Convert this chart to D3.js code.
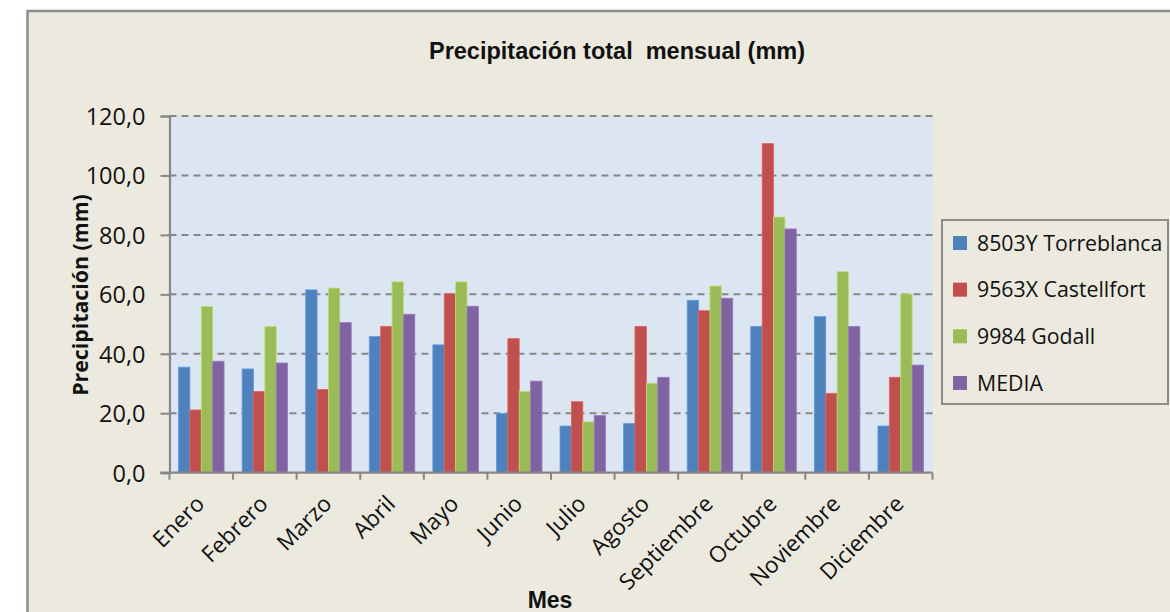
<!DOCTYPE html>
<html>
<head>
<meta charset="utf-8">
<script src="https://cdn.jsdelivr.net/npm/d3@7"></script>
<style>
  html, body { margin: 0; padding: 0; background: #ffffff; }
  svg { display: block; }
</style>
</head>
<body>
<svg id="chart" width="1170" height="612"></svg>
<script>
// Monthly precipitation (mm) by station
const months = ["Enero", "Febrero", "Marzo", "Abril", "Mayo", "Junio", "Julio", "Agosto", "Septiembre", "Octubre", "Noviembre", "Diciembre"];
const seriesNames = ["8503Y Torreblanca", "9563X Castellfort", "9984 Godall", "MEDIA"];
const torreblanca = [35.5, 34.9, 61.5, 45.8, 43.0, 19.9, 15.7, 16.5, 58.0, 49.2, 52.5, 15.7];
const castellfort = [21.1, 27.3, 28.0, 49.2, 60.2, 45.1, 23.9, 49.2, 54.5, 110.7, 26.7, 32.1];
const godall = [55.9, 49.2, 62.1, 64.2, 64.2, 27.3, 17.1, 30.1, 62.8, 86.0, 67.6, 60.1];
const media = [37.5, 36.9, 50.5, 53.3, 56.0, 30.8, 19.2, 32.1, 58.7, 82.0, 49.2, 36.2];
const yTicks = [0, 20, 40, 60, 80, 100, 120];
const colors = ["#4F81BD", "#C0504D", "#9BBB59", "#8064A2"];

const seriesValues = [torreblanca, castellfort, godall, media];

const svg = d3.select("#chart");
const W = 1170, H = 612;

// Chart frame
svg.append("rect").attr("x", 27.5).attr("y", 11).attr("width", W + 20).attr("height", H + 20)
  .attr("fill", "#ECE9DF").attr("stroke", "#8c8c8c").attr("stroke-width", 2.5);

const plot = { left: 169.5, right: 932.5, top: 116, bottom: 472.7 };

const y = d3.scaleLinear().domain([0, 120]).range([plot.bottom, plot.top]);
const x0 = d3.scaleBand().domain(months).range([plot.left, plot.right]).padding(0);
const x1 = d3.scaleBand().domain(seriesNames)
  .range([x0.bandwidth() * 0.142, x0.bandwidth() * 0.858]).padding(0);

// Plot background
svg.append("rect").attr("x", plot.left).attr("y", plot.top)
  .attr("width", plot.right - plot.left).attr("height", plot.bottom - plot.top)
  .attr("fill", "#DCE6F2");

// Dashed gridlines
svg.append("g").selectAll("line").data(yTicks.filter(d => d > 0)).join("line")
  .attr("x1", plot.left).attr("x2", plot.right)
  .attr("y1", d => y(d)).attr("y2", d => y(d))
  .attr("stroke", "#868686").attr("stroke-width", 2).attr("stroke-dasharray", "7,5");

// Bars
const groups = svg.append("g").selectAll("g").data(months).join("g")
  .attr("transform", d => `translate(${x0(d)},0)`);
groups.selectAll("rect").data((m, i) => seriesNames.map((s, k) => ({ s, k, v: seriesValues[k][i] })))
  .join("rect")
  .attr("x", d => x1(d.s))
  .attr("width", x1.bandwidth())
  .attr("y", d => y(d.v))
  .attr("height", d => y(0) - y(d.v))
  .attr("fill", d => colors[d.k])
  .attr("stroke", d => d3.color(colors[d.k]).brighter(0.5))
  .attr("stroke-width", 0.8);

// Y axis
const yAxis = svg.append("g").attr("transform", `translate(${plot.left},0)`)
  .call(d3.axisLeft(y).tickValues(yTicks).tickSize(9).tickPadding(15)
    .tickFormat(d => d3.format(".1f")(d).replace(".", ",")));
yAxis.select(".domain").attr("stroke", "#868686").attr("stroke-width", 2.2);
yAxis.selectAll(".tick line").attr("stroke", "#868686").attr("stroke-width", 2)
  .attr("x1", -9).attr("x2", 0);
yAxis.selectAll(".tick text").attr("font-family", "'Open Sans', sans-serif")
  .attr("font-size", 23.5).attr("fill", "#111").attr("dy", "0.36em");

// X axis with ticks at category boundaries
const xAxisG = svg.append("g").attr("transform", `translate(0,${plot.bottom})`);
xAxisG.append("line").attr("x1", plot.left - 9).attr("x2", plot.right)
  .attr("stroke", "#868686").attr("stroke-width", 2.2);
const bounds = months.map(m => x0(m)).concat([x0(months[months.length - 1]) + x0.bandwidth()]);
xAxisG.selectAll("line.tk").data(bounds).join("line").attr("class", "tk")
  .attr("x1", d => d).attr("x2", d => d).attr("y1", 0).attr("y2", 7)
  .attr("stroke", "#868686").attr("stroke-width", 2);
xAxisG.selectAll("text").data(months).join("text")
  .attr("transform", d => `translate(${x0(d) + x0.bandwidth() / 2 - 1},${27}) rotate(-45)`)
  .attr("text-anchor", "end")
  .attr("dy", "0.35em")
  .attr("font-family", "'Open Sans', sans-serif").attr("font-size", 22.5).attr("fill", "#111")
  .text(d => d);

// Titles
svg.append("text").attr("x", 617).attr("y", 59).attr("text-anchor", "middle")
  .attr("font-family", "'Liberation Sans', Arial, sans-serif").attr("font-weight", "bold")
  .attr("font-size", 23.5).attr("fill", "#111").attr("xml:space", "preserve")
  .text("Precipitación total  mensual (mm)");
svg.append("text").attr("transform", "translate(88,295) rotate(-90)").attr("text-anchor", "middle")
  .attr("font-family", "'Open Sans', sans-serif").attr("font-weight", "bold")
  .attr("font-size", 21.3).attr("fill", "#111")
  .text("Precipitación (mm)");
svg.append("text").attr("x", 550).attr("y", 608).attr("text-anchor", "middle")
  .attr("font-family", "'Liberation Sans', Arial, sans-serif").attr("font-weight", "bold")
  .attr("font-size", 23).attr("fill", "#111")
  .text("Mes");

// Legend
const legend = svg.append("g");
legend.append("rect").attr("x", 942).attr("y", 220).attr("width", 226).attr("height", 184)
  .attr("fill", "#ECE9DF").attr("stroke", "#8c8c8c").attr("stroke-width", 2);
const ly = d3.scalePoint().domain(seriesNames).range([243, 383]);
const items = legend.selectAll("g.item").data(seriesNames).join("g").attr("class", "item")
  .attr("transform", d => `translate(953,${ly(d)})`);
items.append("rect").attr("x", 0).attr("y", -7).attr("width", 14).attr("height", 14)
  .attr("fill", (d, i) => colors[i]);
items.append("text").attr("x", 24).attr("dy", "0.36em")
  .attr("font-family", "'Open Sans', sans-serif").attr("font-size", 21.3).attr("fill", "#111")
  .text(d => d);
</script>
</body>
</html>
